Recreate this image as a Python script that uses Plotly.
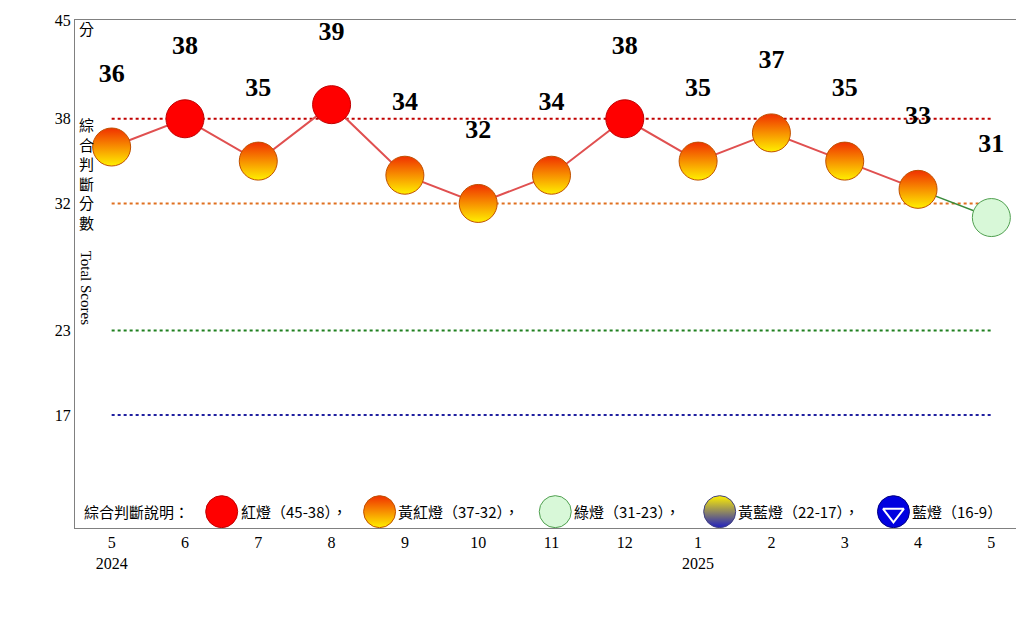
import plotly.graph_objects as go

months = ["5", "6", "7", "8", "9", "10", "11", "12", "1", "2", "3", "4", "5"]
years = ["2024", "", "", "", "", "", "", "", "2025", "", "", "", ""]
scores = [36, 38, 35, 39, 34, 32, 34, 38, 35, 37, 35, 33, 31]
lights = ["yr", "r", "yr", "r", "yr", "yr", "yr", "r", "yr", "yr", "yr", "yr", "g"]
thresholds = [38, 32, 23, 17]
thr_colors = ["#C00000", "#E07020", "#208020", "#2020A0"]
legend_labels = ["紅燈（45-38），", "黃紅燈（37-32），", "綠燈（31-23），", "黃藍燈（22-17），", "藍燈（16-9）"]

x = list(range(len(months)))
ticktext = [m + ("<br>" + y if y else "<br> ") for m, y in zip(months, years)]

fig = go.Figure()
for t, c in zip(thresholds, thr_colors):
    fig.add_trace(go.Scatter(x=[0, 12], y=[t, t], mode="lines",
                             line=dict(color=c, width=2, dash="dot"), hoverinfo="skip"))
fig.add_trace(go.Scatter(x=x[:-1], y=scores[:-1], mode="lines",
                         line=dict(color="#E05050", width=2)))
fig.add_trace(go.Scatter(x=x[-2:], y=scores[-2:], mode="lines",
                         line=dict(color="#3A8A3A", width=1.5)))

def style(kind):
    if kind == "r":
        return dict(color="#FF0000", line=dict(color="#C00000", width=1))
    if kind == "yr":
        return dict(color="#F03000", gradient=dict(type="vertical", color="#FFF000"),
                    line=dict(color="#C05000", width=1))
    if kind == "g":
        return dict(color="#D8F8D8", line=dict(color="#50A050", width=1))
    if kind == "yb":
        return dict(color="#FFF000", gradient=dict(type="vertical", color="#2020C0"),
                    line=dict(color="#404080", width=1))
    return dict(color="#0000E0", line=dict(color="#000080", width=1))

for kind in ["r", "yr", "g"]:
    idx = [i for i, k in enumerate(lights) if k == kind]
    fig.add_trace(go.Scatter(x=[x[i] for i in idx], y=[scores[i] for i in idx],
                             mode="markers+text", text=["<b>%d</b><br> " % scores[i] for i in idx],
                             textposition="top center",
                             textfont=dict(family="Times New Roman, Liberation Serif", size=26, color="black"),
                             marker=dict(size=38, **style(kind)), cliponaxis=False))

# legend row (overlay axes in pixel units)
leg_x = [157, 326, 514, 690, 876]
leg_kinds = ["r", "yr", "g", "yb", "b"]
for lx, k in zip(leg_x, leg_kinds):
    fig.add_trace(go.Scatter(x=[lx], y=[-614], mode="markers", xaxis="x2", yaxis="y2",
                             marker=dict(size=32, **style(k)), cliponaxis=False))
fig.add_trace(go.Scatter(x=[876], y=[-616], mode="markers", xaxis="x2", yaxis="y2",
                         marker=dict(size=18, symbol="triangle-down", color="#0000E0",
                                     line=dict(color="white", width=2)), cliponaxis=False))

fig.update_layout(
    width=1024, height=634, showlegend=False,
    paper_bgcolor="white", plot_bgcolor="white",
    margin=dict(l=0, r=4, t=12, b=0),
    font=dict(family="Times New Roman, Liberation Serif", size=16, color="black"),
    xaxis=dict(range=[-0.5, 12.5], tickvals=x, ticktext=ticktext, showgrid=False,
               domain=[67 / 1020, 1], automargin=False,
               showline=True, linecolor="#808080", mirror=True, ticks="", zeroline=False),
    yaxis=dict(range=[9, 45], tickvals=[17, 23, 32, 38, 45], showgrid=False,
               domain=[114 / 622, 1], automargin=False,
               showline=True, linecolor="#808080", mirror=True, ticks="", zeroline=False),
    xaxis2=dict(range=[0, 1020], overlaying="x", visible=False, domain=[0, 1], anchor="y2"),
    yaxis2=dict(range=[-634, -12], overlaying="y", visible=False, domain=[0, 1], anchor="x2"),
)

fig.add_annotation(xref="x2", yref="y2", x=12, y=-22, text="分", showarrow=False,
                   font=dict(family="Noto Sans CJK TC", size=15))
fig.add_annotation(xref="x2", yref="y2", x=12, y=-200, showarrow=False,
                   text="綜<br>合<br>判<br>斷<br>分<br>數",
                   font=dict(family="Noto Sans CJK TC", size=15))
fig.add_annotation(xref="x2", yref="y2", x=12, y=-340, showarrow=False, textangle=90,
                   text="Total Scores", font=dict(size=15))
fig.add_annotation(xref="x2", yref="y2", x=8, y=-614, xanchor="left", showarrow=False,
                   text="綜合判斷說明：", font=dict(family="Noto Sans CJK TC", size=15))
for lx, lab in zip(leg_x, legend_labels):
    fig.add_annotation(xref="x2", yref="y2", x=lx + 18, y=-614, xanchor="left", showarrow=False,
                       text=lab, font=dict(family="Noto Sans CJK TC", size=15))

fig.write_html("out.html")
